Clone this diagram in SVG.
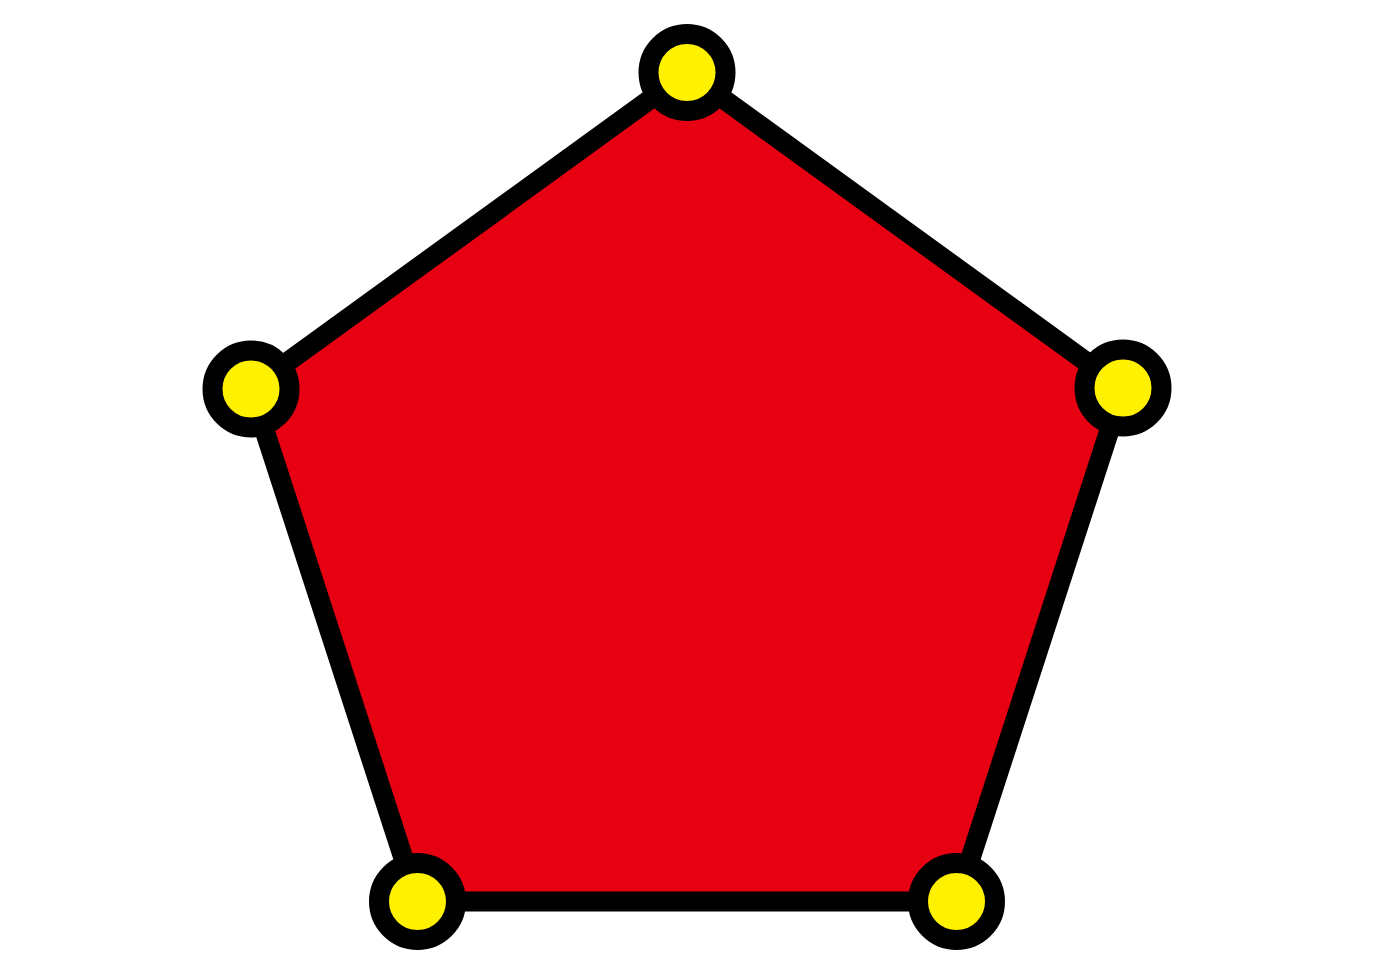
<svg xmlns="http://www.w3.org/2000/svg" width="1375" height="975" viewBox="0 0 1375 975">
  <style>
    .edge { fill: #E60012; stroke: #000; stroke-width: 20; stroke-linejoin: miter; }
    .pt { fill: #FFF100; stroke: #000; stroke-width: 20; }
  </style>
  <rect width="1375" height="975" fill="#fff"/>
  <g id="connectors">
    <polygon class="edge" points="687,72.5 1123,388.5 956.5,901.5 417.5,901.5 251,388.5"/>
  </g>
  <g id="node-top"><circle class="pt" cx="687" cy="72.5" r="38.5"/></g>
  <g id="node-right"><circle class="pt" cx="1123" cy="388" r="38.5"/></g>
  <g id="node-bottom-right"><circle class="pt" cx="956.5" cy="901.5" r="38.5"/></g>
  <g id="node-bottom-left"><circle class="pt" cx="417.5" cy="901.5" r="38.5"/></g>
  <g id="node-left"><circle class="pt" cx="251" cy="389" r="38.5"/></g>
</svg>
